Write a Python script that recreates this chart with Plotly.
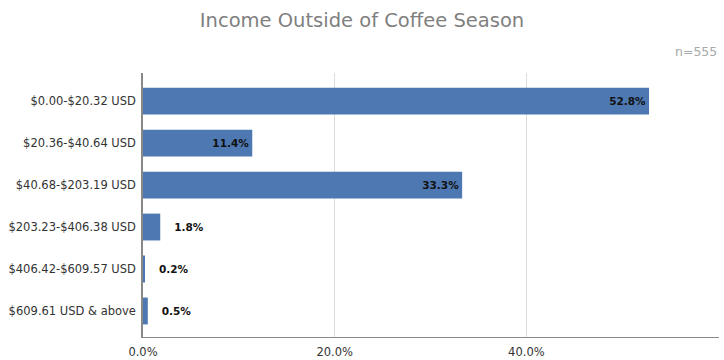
import plotly.graph_objects as go

categories = [
    "$0.00-$20.32 USD",
    "$20.36-$40.64 USD",
    "$40.68-$203.19 USD",
    "$203.23-$406.38 USD",
    "$406.42-$609.57 USD",
    "$609.61 USD & above",
]
values = [52.8, 11.4, 33.3, 1.8, 0.2, 0.5]
label_pos = ["inside", "inside", "inside", "outside", "outside", "outside"]
x_ticks = [0, 20, 40, 60]
x_tick_text = ["0.0%", "20.0%", "40.0%", ""]
sample_note = "n=555"

font_family = "DejaVu Sans, Verdana, sans-serif"

labels = [f"{v:.1f}%" if p == "inside" else f"   {v:.1f}%" for v, p in zip(values, label_pos)]
label_font = dict(family=font_family, size=10.5, color="#111111", weight="bold")

fig = go.Figure(
    go.Bar(
        x=values,
        y=categories,
        orientation="h",
        marker=dict(color="#4e78b2", line=dict(color="#4e78b2", width=0)),
        text=labels,
        textposition=label_pos,
        insidetextanchor="end",
        textfont=label_font,
        insidetextfont=label_font,
        outsidetextfont=label_font,
        cliponaxis=False,
        width=0.64,
    )
)

fig.update_layout(
    width=724,
    height=360,
    margin=dict(l=143, r=5, t=73, b=23),
    plot_bgcolor="white",
    paper_bgcolor="white",
    showlegend=False,
    font=dict(family=font_family, color="#333333", size=11.5),
    title=dict(
        text="Income Outside of Coffee Season",
        x=0.5,
        xanchor="center",
        y=0.945,
        yanchor="middle",
        font=dict(family=font_family, size=19.5, color="#808080"),
    ),
)

fig.update_xaxes(
    range=[0, 60.1],
    tickvals=x_ticks,
    ticktext=x_tick_text,
    showgrid=True,
    gridcolor="#dddddd",
    gridwidth=1,
    zeroline=False,
    showline=True,
    linecolor="#888888",
    linewidth=1,
    ticks="",
    ticklabelstandoff=4,
    automargin=False,
    tickfont=dict(family=font_family, size=11.5, color="#333333"),
    fixedrange=True,
)

fig.update_yaxes(
    categoryorder="array",
    categoryarray=categories[::-1],
    range=[-0.62, 5.67],
    showgrid=False,
    zeroline=False,
    showline=True,
    linecolor="#888888",
    linewidth=1.5,
    ticks="",
    ticklabelstandoff=3,
    automargin=False,
    tickfont=dict(family=font_family, size=11.5, color="#333333"),
    fixedrange=True,
)

fig.add_annotation(
    text=sample_note,
    xref="paper",
    yref="paper",
    x=1.0,
    y=1.08,
    xanchor="right",
    yanchor="middle",
    showarrow=False,
    font=dict(family=font_family, size=12.5, color="#a8a8a8"),
)

fig.write_html("out.html")
